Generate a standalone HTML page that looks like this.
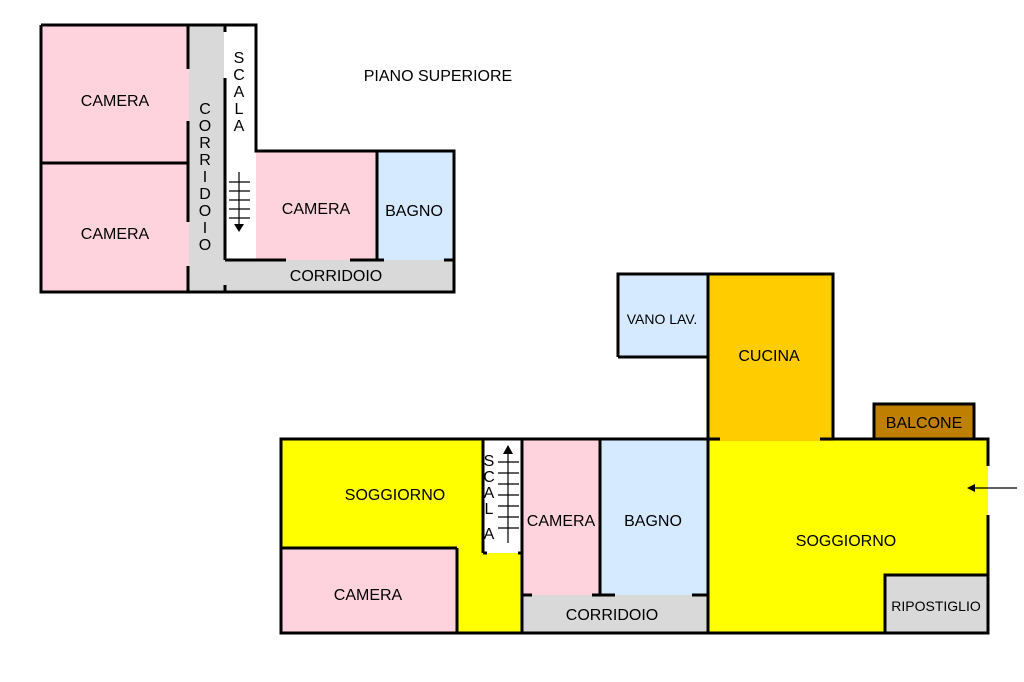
<!DOCTYPE html>
<html><head><meta charset="utf-8"><style>
html,body{margin:0;padding:0;background:#fff;}
svg{display:block}
text{font-family:"Liberation Sans",sans-serif;font-size:16px;fill:#000;}
</style></head><body>
<svg width="1024" height="682" viewBox="0 0 1024 682" xmlns="http://www.w3.org/2000/svg">
<rect x="41" y="25" width="148" height="267" fill="#FFD3DE"/>
<rect x="189" y="25" width="35" height="267" fill="#D9D9D9"/>
<rect x="224" y="25" width="32" height="235" fill="#fff"/>
<rect x="256" y="151" width="121" height="109" fill="#FFD3DE"/>
<rect x="377" y="151" width="77" height="109" fill="#D6EAFF"/>
<rect x="224" y="260" width="230" height="32" fill="#D9D9D9"/>
<g stroke="#000" stroke-width="3" fill="none">
<polyline points="41,25 256,25 256,151 454,151 454,292 41,292 41,25"/>
<line x1="41" y1="163" x2="189" y2="163"/>
<line x1="188" y1="25" x2="188" y2="69"/>
<line x1="188" y1="121" x2="188" y2="222"/>
<line x1="188" y1="266" x2="188" y2="292"/>
<line x1="225" y1="25" x2="225" y2="32"/>
<line x1="225" y1="78" x2="225" y2="260"/>
<line x1="225" y1="260" x2="286" y2="260"/>
<line x1="350" y1="260" x2="384" y2="260"/>
<line x1="444" y1="260" x2="454" y2="260"/>
<line x1="377" y1="151" x2="377" y2="260"/>
<line x1="225" y1="285" x2="225" y2="292"/>
</g>
<g stroke="#000" stroke-width="1.2">
<line x1="239" y1="172" x2="239" y2="228"/>
<line x1="229" y1="182" x2="250" y2="182"/><line x1="229" y1="191" x2="250" y2="191"/>
<line x1="229" y1="200" x2="250" y2="200"/><line x1="229" y1="209" x2="250" y2="209"/>
<line x1="229" y1="218" x2="250" y2="218"/>
</g>
<polygon points="234,224 244,224 239,232" fill="#000"/>
<text x="115" y="106" text-anchor="middle">CAMERA</text>
<text x="115" y="239" text-anchor="middle">CAMERA</text>
<text x="316" y="214" text-anchor="middle">CAMERA</text>
<text x="414" y="216" text-anchor="middle">BAGNO</text>
<text x="336" y="281" text-anchor="middle">CORRIDOIO</text>
<text x="438" y="81" text-anchor="middle">PIANO SUPERIORE</text>
<g text-anchor="middle">
<text x="205" y="114">C</text><text x="205" y="131">O</text><text x="205" y="148">R</text><text x="205" y="165">R</text>
<text x="205" y="182">I</text><text x="205" y="199">D</text><text x="205" y="216">O</text><text x="205" y="233">I</text><text x="205" y="250">O</text>
<text x="239" y="63">S</text><text x="239" y="80">C</text><text x="239" y="97">A</text><text x="239" y="114">L</text><text x="239" y="131">A</text>
</g>

<rect x="281" y="439" width="707" height="194" fill="#FFFF00"/>
<rect x="281" y="548" width="176" height="85" fill="#FFD3DE"/>
<rect x="483" y="439" width="39" height="114" fill="#fff"/>
<rect x="522" y="439" width="78" height="156" fill="#FFD3DE"/>
<rect x="600" y="439" width="108" height="156" fill="#D6EAFF"/>
<rect x="522" y="595" width="186" height="38" fill="#D9D9D9"/>
<rect x="885" y="575" width="103" height="58" fill="#D9D9D9"/>
<rect x="618" y="274" width="90" height="83" fill="#D6EAFF"/>
<rect x="708" y="274" width="125" height="167" fill="#FFCC00"/>
<rect x="874" y="404" width="100" height="35" fill="#BF7F00"/>
<g stroke="#000" stroke-width="3" fill="none">
<polyline points="988,515 988,633 281,633 281,439 720,439"/>
<polyline points="820,439 988,439 988,466"/>
<line x1="281" y1="548" x2="457" y2="548"/>
<line x1="457" y1="548" x2="457" y2="633"/>
<line x1="483" y1="439" x2="483" y2="553"/>
<line x1="483" y1="553" x2="487" y2="553"/>
<line x1="518" y1="553" x2="522" y2="553"/>
<line x1="522" y1="439" x2="522" y2="633"/>
<line x1="600" y1="439" x2="600" y2="595"/>
<line x1="522" y1="595" x2="532" y2="595"/>
<line x1="592" y1="595" x2="615" y2="595"/>
<line x1="692" y1="595" x2="708" y2="595"/>
<line x1="708" y1="274" x2="708" y2="633"/>
<polyline points="618,357 618,274 833,274 833,439"/>
<line x1="618" y1="357" x2="708" y2="357"/>
<polyline points="874,439 874,404 974,404 974,439"/>
<polyline points="885,633 885,575 988,575"/>
</g>
<g stroke="#000" stroke-width="1.2">
<line x1="508" y1="450" x2="508" y2="543"/>
<line x1="498" y1="462" x2="519" y2="462"/><line x1="498" y1="473" x2="519" y2="473"/>
<line x1="498" y1="484" x2="519" y2="484"/><line x1="498" y1="495" x2="519" y2="495"/>
<line x1="498" y1="506" x2="519" y2="506"/><line x1="498" y1="517" x2="519" y2="517"/>
<line x1="498" y1="528" x2="519" y2="528"/>
<line x1="1017" y1="488" x2="972" y2="488"/>
</g>
<polygon points="503,454 513,454 508,445" fill="#000"/>
<polygon points="967,488 975,484 975,492" fill="#000"/>
<g text-anchor="middle">
<text x="489" y="466">S</text><text x="489" y="482">C</text><text x="489" y="498">A</text><text x="489" y="514">L</text><text x="489" y="539">A</text>
</g>
<text x="395" y="500" text-anchor="middle">SOGGIORNO</text>
<text x="368" y="600" text-anchor="middle">CAMERA</text>
<text x="561" y="526" text-anchor="middle">CAMERA</text>
<text x="653" y="526" text-anchor="middle">BAGNO</text>
<text x="612" y="620" text-anchor="middle">CORRIDOIO</text>
<text x="846" y="546" text-anchor="middle">SOGGIORNO</text>
<text x="936" y="611" text-anchor="middle" style="font-size:14px">RIPOSTIGLIO</text>
<text x="662" y="324" text-anchor="middle" style="font-size:14px">VANO LAV.</text>
<text x="769" y="361" text-anchor="middle">CUCINA</text>
<text x="924" y="428" text-anchor="middle">BALCONE</text>
</svg>
</body></html>
